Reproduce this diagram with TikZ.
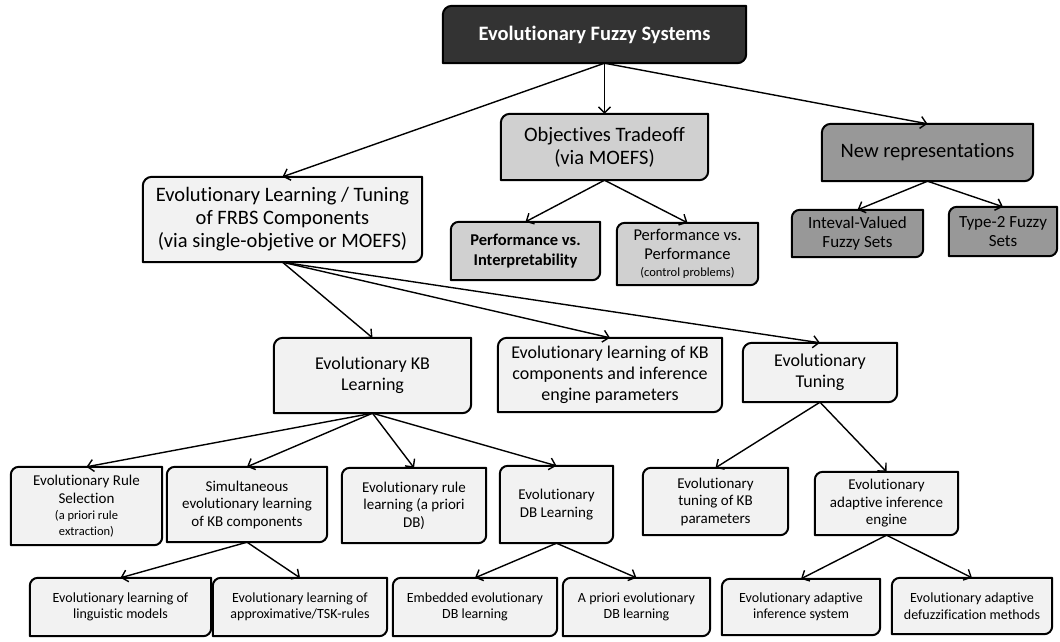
\documentclass[tikz,border=0pt]{standalone}
\usepackage{fontspec}
\setmainfont{Carlito}[Ligatures=NoCommon]
\usetikzlibrary{arrows.meta,backgrounds}
\definecolor{cTop}{HTML}{333333}
\definecolor{cLight}{HTML}{F2F2F2}
\definecolor{cMid}{HTML}{D0D0D0}
\definecolor{cDark}{HTML}{989898}
\tikzset{
  nb/.style={inner sep=0pt, align=center, text=black},
  fXL/.style={font=\fontsize{20.5}{23}\selectfont},
  fL/.style={font=\fontsize{18}{21}\selectfont},
  fM/.style={font=\fontsize{17}{18.5}\selectfont},
  fP/.style={font=\fontsize{16.5}{19}\selectfont},
  fS/.style={font=\fontsize{15}{17.5}\selectfont},
  fXS/.style={font=\fontsize{14}{16.5}\selectfont},
  outl/.style={line width=2pt, draw=black, line join=round},
  con/.style={line width=1.4pt, -{Straight Barb[length=6pt,width=12pt,line width=1.4pt]}},
}
\newcommand\dshape[3][9pt]{%
  \draw[outl, fill=#3] (#2.south west) -- ([yshift=-#1]#2.north west)
    arc[start angle=180,end angle=90,radius=#1] -- (#2.north east)
    -- ([yshift=#1]#2.south east) arc[start angle=0,end angle=-90,radius=#1] -- cycle;}
\newcommand\smalltxt{\fontsize{12.5}{15}\selectfont}
\begin{document}
\begin{tikzpicture}[x=1pt,y=-1pt]
\useasboundingbox (0,0) rectangle (1060,641);

% level 0
\node[nb, font=\bfseries\fontsize{20.5}{23}\selectfont, text=white, minimum width=303, minimum height=57] (top) at (594.5,34.5) {Evolutionary Fuzzy Systems};

% level 1
\node[nb, fXL, minimum width=279, minimum height=85] (frbs) at (282.5,219.5) {Evolutionary Learning / Tuning\\of FRBS Components\\(via single-objetive or MOEFS)};
\node[nb, fXL, minimum width=207, minimum height=66] (obj) at (604.5,147) {Objectives Tradeoff\\(via MOEFS)};
\node[nb, fXL, minimum width=211, minimum height=57] (newrep) at (927.5,152.5) {New representations};

% level 2 (right part)
\node[nb, fM, minimum width=131, minimum height=47] (ival) at (857.5,233.5) {Inteval-Valued\\Fuzzy Sets};
\node[nb, fM, minimum width=108, minimum height=49] (t2) at (1003,231.5) {Type-2 Fuzzy\\Sets};
\node[nb, font=\bfseries\fontsize{16.5}{20.5}\selectfont, minimum width=149, minimum height=58] (pvi) at (525.5,251) {Performance vs.\\Interpretability};
\node[nb, fP, minimum width=141, minimum height=62] (pvp) at (687.5,254) {Performance vs.\\Performance\\[-2pt]{\smalltxt (control problems)}};

% level 2 (under FRBS)
\node[nb, fL, minimum width=197, minimum height=75] (kbl) at (372.5,375.5) {Evolutionary KB\\Learning};
\node[nb, fL, minimum width=224, minimum height=74] (kbc) at (610,375) {Evolutionary learning of KB\\components and inference\\engine parameters};
\node[nb, fL, minimum width=154, minimum height=59] (tun) at (820,372.5) {Evolutionary\\Tuning};

% level 3
\node[nb, fS, minimum width=151, minimum height=78] (rs) at (86.5,506) {Evolutionary Rule\\Selection\\[-1pt]{\smalltxt (a priori rule}\\[-2pt]{\smalltxt extraction)}};
\node[nb, fS, minimum width=160, minimum height=75] (sim) at (247,504.5) {Simultaneous\\evolutionary learning\\of KB components};
\node[nb, fS, minimum width=144, minimum height=75] (rl) at (414,505.5) {Evolutionary rule\\learning (a priori\\DB)};
\node[nb, fS, minimum width=113, minimum height=77] (dbl) at (556.5,504.5) {Evolutionary\\DB Learning};
\node[nb, fS, minimum width=145, minimum height=67] (tkb) at (715.5,501.5) {Evolutionary\\tuning of KB\\parameters};
\node[nb, fS, minimum width=143, minimum height=63] (aie) at (886.5,503.5) {Evolutionary\\adaptive inference\\engine};

% level 4
\node[nb, fXS, minimum width=181, minimum height=58] (ling) at (120.5,607) {Evolutionary learning of\\linguistic models};
\node[nb, fXS, minimum width=174, minimum height=58] (appr) at (300,607) {Evolutionary learning of\\approximative/TSK-rules};
\node[nb, fXS, minimum width=164, minimum height=58] (emb) at (475,607) {Embedded evolutionary\\DB learning};
\node[nb, fXS, minimum width=147, minimum height=58] (apr) at (636.5,607) {A priori evolutionary\\DB learning};
\node[nb, fXS, minimum width=158, minimum height=56] (ais) at (801,607) {Evolutionary adaptive\\inference system};
\node[nb, fXS, minimum width=160, minimum height=56] (def) at (972,606) {Evolutionary adaptive\\defuzzification methods};

\begin{pgfonlayer}{background}
  \dshape{top}{cTop}
  \dshape{frbs}{cLight}
  \dshape{obj}{cMid}
  \dshape{newrep}{cDark}
  \dshape[8pt]{ival}{cDark}
  \dshape[8pt]{t2}{cDark}
  \dshape[8pt]{pvi}{cMid}
  \dshape[8pt]{pvp}{cMid}
  \dshape{kbl}{cLight}
  \dshape{kbc}{cLight}
  \dshape{tun}{cLight}
  \dshape[8pt]{rs}{cLight}
  \dshape[8pt]{sim}{cLight}
  \dshape[8pt]{rl}{cLight}
  \dshape[8pt]{dbl}{cLight}
  \dshape[8pt]{tkb}{cLight}
  \dshape[8pt]{aie}{cLight}
  \dshape[8pt]{ling}{cLight}
  \dshape[8pt]{appr}{cLight}
  \dshape[8pt]{emb}{cLight}
  \dshape[8pt]{apr}{cLight}
  \dshape[8pt]{ais}{cLight}
  \dshape[8pt]{def}{cLight}
\end{pgfonlayer}

% connectors
\draw[con] ([xshift=10pt]top.south) -- (frbs.north);
\draw[con] ([xshift=10pt]top.south) -- (obj.north);
\draw[con] ([xshift=10pt]top.south) -- (newrep.north);
\draw[con] (obj.south) -- (pvi.north);
\draw[con] (obj.south) -- (pvp.north);
\draw[con] (newrep.south) -- (ival.north);
\draw[con] (newrep.south) -- (t2.north);
\draw[con] (frbs.south) -- (kbl.north);
\draw[con] (frbs.south) -- (kbc.north);
\draw[con] (frbs.south) -- (tun.north);
\draw[con] (kbl.south) -- (rs.north);
\draw[con] (kbl.south) -- (sim.north);
\draw[con] (kbl.south) -- (rl.north);
\draw[con] (kbl.south) -- (dbl.north);
\draw[con] (tun.south) -- (tkb.north);
\draw[con] (tun.south) -- (aie.north);
\draw[con] (sim.south) -- (ling.north);
\draw[con] (sim.south) -- (appr.north);
\draw[con] (dbl.south) -- (emb.north);
\draw[con] (dbl.south) -- (apr.north);
\draw[con] (aie.south) -- (ais.north);
\draw[con] (aie.south) -- (def.north);
\end{tikzpicture}
\end{document}
